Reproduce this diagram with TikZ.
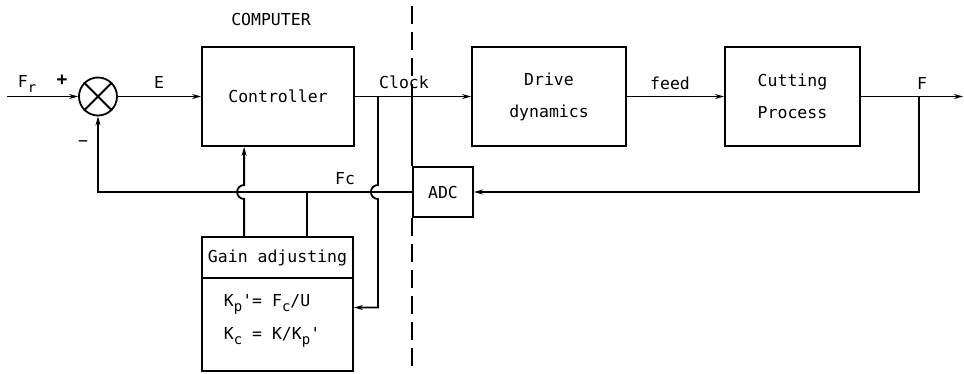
\documentclass[tikz,border=0pt]{standalone}
\usepackage{fontspec}
\setmonofont{DejaVu Sans Mono}
\usetikzlibrary{arrows.meta,calc}
\newcommand\lowsub[1]{\raisebox{-5pt}{\fontsize{14}{14}\selectfont #1}}
\begin{document}
\begin{tikzpicture}[x=1pt,y=-1pt,
  font=\ttfamily\fontsize{16.5}{19}\selectfont,
  line width=1.8pt,
  blk/.style={draw, rectangle, inner sep=0pt, align=center},
  arr/.style={-{Stealth[length=9pt,width=5pt]}},
  lbl/.style={inner sep=0pt},
  divider/.style={line width=1.4pt, dash pattern=on 18pt off 8pt}]
\useasboundingbox (0,0) rectangle (964,373);

% blocks
\node[blk, minimum width=152pt, minimum height=99pt] (ctrl) at (278,96.5) {Controller};
\node[blk, minimum width=154pt, minimum height=99pt, align=center] (drive) at (549,96.5) {Drive\\[13pt]dynamics};
\node[blk, minimum width=135pt, minimum height=99pt, align=center] (cut) at (792.5,96.5) {Cutting\\[13pt]Process};
\node[blk, minimum width=60pt, minimum height=50pt] (adc) at (443,192) {ADC};
\node[blk, minimum width=151pt, minimum height=41pt] (gaintop) at (277.5,257.5) {Gain adjusting};
\node[blk, minimum width=151pt, minimum height=93pt] (gainbot) at (277.5,324.5) {};
\node[lbl, anchor=base west] (k1) at (223,306) {K\lowsub{p}'= F\lowsub{c}/U};
\node[lbl, anchor=base west] (k2) at (223,339) {K\lowsub{c} = K/K\lowsub{p}'};

% summing junction
\node[draw, circle, minimum size=38pt, inner sep=0pt] (sum) at (98,96.5) {};
\draw (sum.45) -- (sum.225);
\draw (sum.135) -- (sum.315);

% labels
\node[lbl, anchor=base] (lfr) at (27,87) {F\lowsub{r}};
\node[lbl, font=\ttfamily\bfseries\fontsize{18}{20}\selectfont] (lplus) at (62,80) {+};
\node[lbl] (lminus) at (83,144) {−};
\node[lbl] (le) at (159,82) {E};
\node[lbl] (lcomp) at (271,19) {COMPUTER};
\node[lbl] (lclock) at (404,82) {Clock};
\node[lbl] (lfc) at (345,179) {Fc};
\node[lbl] (lfeed) at (670,83) {feed};
\node[lbl] (lf) at (922,83) {F};

% helper coordinates
\coordinate (in) at (7,96.5);
\coordinate (out) at (963,96.5);
\coordinate (fbtop) at (919,96.5);
\coordinate (fbbot) at (fbtop |- adc.east);
\coordinate (v1b) at ([xshift=43pt]gaintop.north west);
\coordinate (v1t) at (v1b |- ctrl.south);
\coordinate (v1x) at (v1b |- adc.west);
\coordinate (v2b) at ([xshift=106pt]gaintop.north west);
\coordinate (v2t) at (v2b |- adc.west);
\coordinate (v3t) at ([xshift=23pt]ctrl.east);
\coordinate (kin) at ([yshift=17pt]gainbot.east);
\coordinate (v3b) at (v3t |- kin);
\coordinate (v3x) at (v3t |- adc.west);
\coordinate (cka) at (adc.north west |- ctrl.east);
\coordinate (dtop) at (cka |- 0,6);
\coordinate (dbot) at (adc.south west |- 0,373);

% forward path
\draw[arr] (in) -- (sum.west);
\draw[arr] (sum.east) -- (ctrl.west);
\draw[arr] (ctrl.east) -- (drive.west);
\draw[arr] (drive.east) -- (cut.west);
\draw[arr] (cut.east) -- (out);

% feedback path
\draw[arr] (fbtop) -- (fbbot) -- (adc.east);
\draw[arr] (adc.west) -| (sum.south);

% clock to ADC
\draw (cka) -- (adc.north west);

% gain adjusting connections
\draw[arr] (v1b) -- ($(v1x)+(0,7)$) arc[start angle=90, end angle=270, radius=7] -- (v1t);
\draw (v2t) -- (v2b);
\draw[arr] (v3t) -- ($(v3x)+(0,-7)$) arc[start angle=270, end angle=90, radius=7] -- (v3b) -- (kin);

% computer / process divider
\draw[divider] (dtop) -- (cka);
\draw[divider] (adc.south west) -- (dbot);
\end{tikzpicture}
\end{document}
